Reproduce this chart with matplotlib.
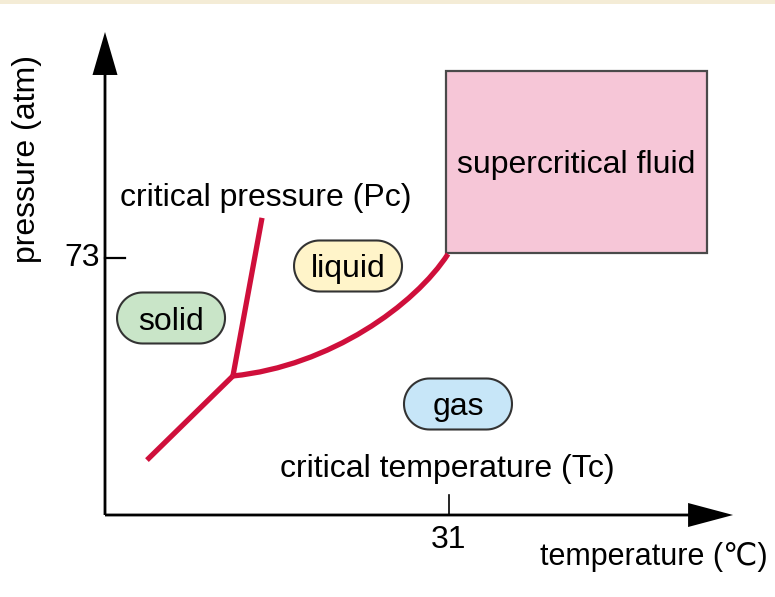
import matplotlib
matplotlib.use("Agg")
import numpy as np
import matplotlib.pyplot as plt
from matplotlib.patches import Rectangle, Polygon, PathPatch
from matplotlib.path import Path
from matplotlib.transforms import ScaledTranslation

plt.rcParams['font.family'] = ['Liberation Sans', 'DejaVu Sans']

# ---- data (temperature in deg C, pressure in atm, schematic) ----
critical_T = 31
critical_P = 73
tick_T_labels = ["31"]
tick_P_labels = ["73"]

sublimation_T = [3.78, 11.53]
sublimation_P = [15.6, 39.5]

melting_T = [11.53, 14.15]
melting_P = [39.5, 84.4]

# vaporisation curve: cubic Bezier (start, control, control, end)
vapor_T = [11.53, 20.28, 27.94, 30.91]
vapor_P = [39.5, 42.3, 59.65, 74.14]

supercritical_T = [30.73, 54.25]
supercritical_P = [74.4, 126.1]

phase_names = ["solid", "liquid", "gas"]
phase_T = [5.95, 21.9, 31.81]
phase_P = [55.96, 70.73, 31.53]
phase_text_P = [52.55, 67.6, 28.41]
phase_colors = ["#C9E5C8", "#FFF4C9", "#C7E6F8"]

x_max_T = 56.6
y_max_P = 137.2

# ---- figure ----
W, H = 775, 597
fig = plt.figure(figsize=(W / 100, H / 100), dpi=100)
ax = fig.add_axes([0, 0, 1, 1])
ax.axis('off')

sx = 344 / 31.0     # px per degC
sy = 257 / 73.0     # px per atm
ox, oy = 105, 515   # origin in pixels (from top-left)
ax.set_xlim(-ox / sx, (W - ox) / sx)
ax.set_ylim(-(H - oy) / sy, oy / sy)

# beige band at the top
fig.patches.append(Rectangle((0, 1 - 4 / H), 1, 4 / H, transform=fig.transFigure,
                             facecolor='#F4ECD6', edgecolor='none'))

FS = 23
red = '#CF0F3B'

# axes arrows
ax.arrow(0, 0, 0, y_max_P, width=2.8 / sx, head_width=25 / sx, head_length=43 / sy,
         length_includes_head=True, fc='black', ec='none', zorder=3)
ax.arrow(0, 0, x_max_T, 0, width=2.8 / sy, head_width=24 / sy, head_length=45 / sx,
         length_includes_head=True, fc='black', ec='none', zorder=3)

# ticks
ax.plot([0, 20 / sx], [critical_P, critical_P], color='black', lw=1.6, zorder=3)
ax.plot([critical_T, critical_T], [0, 20 / sy], color='black', lw=1.2, zorder=3)
ax.text(-5 / sx, critical_P - 8 / sy, tick_P_labels[0], ha='right', va='baseline', fontsize=FS)
ax.text(critical_T, -33 / sy, tick_T_labels[0], ha='center', va='baseline', fontsize=FS)

# axis labels
ax.text(-70 / sx, 101, "pressure (atm)", rotation=90, rotation_mode='anchor',
        ha='center', va='baseline', fontsize=FS)
ax.text((768 - ox) / sx, -14.2, "temperature (\u2103)", ha='right', va='baseline', fontsize=22)

# supercritical box
ax.add_patch(Rectangle((supercritical_T[0], supercritical_P[0]),
                       supercritical_T[1] - supercritical_T[0],
                       supercritical_P[1] - supercritical_P[0],
                       facecolor='#F6C6D7', edgecolor='#4a4a4a', lw=1.6, zorder=2))
ax.text((supercritical_T[0] + supercritical_T[1]) / 2, 97.1, "supercritical fluid",
        ha='center', va='baseline', fontsize=FS, zorder=4)

# phase boundaries
for xs, ys in [(sublimation_T, sublimation_P), (melting_T, melting_P)]:
    ax.plot(xs, ys, color=red, lw=3.8, solid_capstyle='butt', solid_joinstyle='round', zorder=2)
vpath = Path(list(zip(vapor_T, vapor_P)),
             [Path.MOVETO, Path.CURVE4, Path.CURVE4, Path.CURVE4])
ax.add_patch(PathPatch(vpath, facecolor='none', edgecolor=red, lw=3.8,
                       capstyle='butt', zorder=2))

# annotations
ax.text(1.35, 87.8, "critical pressure (Pc)", ha='left', va='baseline', fontsize=FS)
ax.text(15.77, 10.8, "critical temperature (Tc)", ha='left', va='baseline', fontsize=FS)

# phase pills (stadium shapes, sized in inches)
pw, ph = 1.08, 0.51
r = ph / 2
ang = np.linspace(-np.pi / 2, np.pi / 2, 40)
right = np.column_stack([pw / 2 - r + r * np.cos(ang), r * np.sin(ang)])
left = np.column_stack([-(pw / 2 - r) - r * np.cos(ang), -r * np.sin(ang)])
pill = np.vstack([right, left])
for name, t, p, tp, c in zip(phase_names, phase_T, phase_P, phase_text_P, phase_colors):
    tr = fig.dpi_scale_trans + ScaledTranslation(t, p, ax.transData)
    ax.add_patch(Polygon(pill, closed=True, transform=tr, facecolor=c,
                         edgecolor='#333333', lw=1.5, zorder=3))
    ax.text(t, tp, name, ha='center', va='baseline', fontsize=FS, zorder=4)

fig.savefig("out.png", dpi=100)
